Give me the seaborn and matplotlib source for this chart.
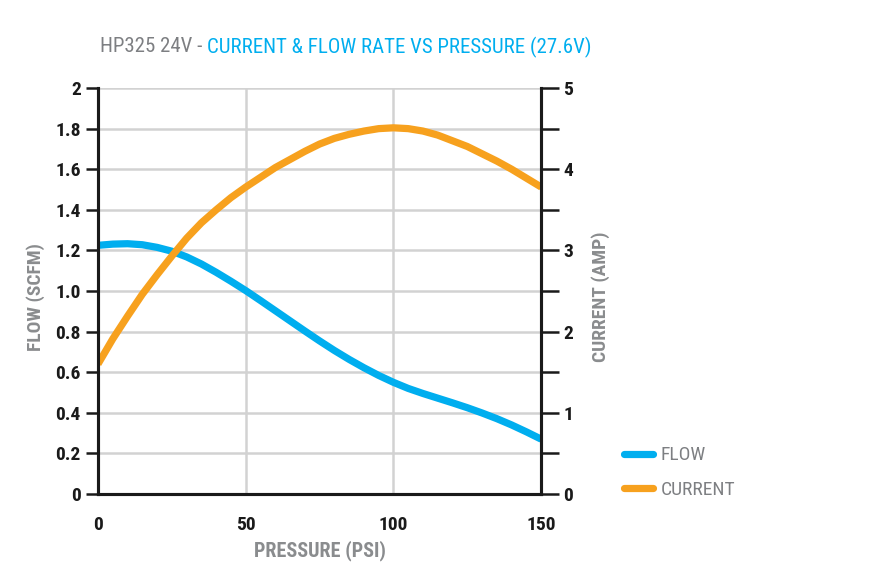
import matplotlib
matplotlib.use("Agg")
import matplotlib.pyplot as plt
import seaborn as sns
import pandas as pd
from matplotlib.lines import Line2D
from matplotlib import font_manager as fm

pressure = [0, 5, 10, 15, 20, 25, 30, 35, 40, 45, 50, 55, 60, 65, 70, 75,
            80, 85, 90, 95, 100, 105, 110, 115, 120, 125, 130, 135, 140, 145, 150]
flow = [1.225, 1.231, 1.233, 1.228, 1.215, 1.196, 1.168, 1.133, 1.092, 1.048, 1.002,
        0.953, 0.903, 0.853, 0.803, 0.754, 0.707, 0.663, 0.622, 0.584, 0.550,
        0.520, 0.495, 0.472, 0.449, 0.425, 0.399, 0.371, 0.340, 0.306, 0.270]
current = [1.60, 1.91, 2.19, 2.46, 2.70, 2.93, 3.15, 3.34, 3.50, 3.65, 3.78,
           3.90, 4.02, 4.12, 4.22, 4.31, 4.38, 4.43, 4.47, 4.50, 4.51,
           4.50, 4.47, 4.42, 4.35, 4.28, 4.19, 4.10, 4.00, 3.89, 3.78]
flow_ticks = [0, 0.2, 0.4, 0.6, 0.8, 1.0, 1.2, 1.4, 1.6, 1.8, 2]
flow_labels = ['0', '0.2', '0.4', '0.6', '0.8', '1.0', '1.2', '1.4', '1.6', '1.8', '2']
current_ticks = [0, 1, 2, 3, 4, 5]
x_ticks = [0, 50, 100, 150]

BLUE = '#00AEEF'
ORANGE = '#F7A11E'
GRAY = '#7d7f82'
LABEL_GRAY = '#8a8c8e'
INK = '#1a1a1a'

sns.set_theme(style='white')
names = {f.name for f in fm.fontManager.ttflist}
fam = [n for n in ['Roboto Condensed', 'Liberation Sans Narrow', 'DejaVu Sans Condensed'] if n in names]
plt.rcParams['font.family'] = fam + ['DejaVu Sans']

df = pd.DataFrame({'pressure': pressure, 'flow': flow, 'current': current})

fig = plt.figure(figsize=(8.75, 5.83), dpi=100)
ax = fig.add_axes([0.112, 0.1527, 0.5065, 0.6963])
ax2 = ax.twinx()

sns.lineplot(data=df, x='pressure', y='flow', ax=ax, color=BLUE, linewidth=5.2, legend=False)
sns.lineplot(data=df, x='pressure', y='current', ax=ax2, color=ORANGE, linewidth=5.2, legend=False)
for l in ax.lines + ax2.lines:
    l.set_solid_capstyle('butt')
    l.set_solid_joinstyle('round')

ax.set_xlim(0, 150)
ax.set_ylim(0, 2)
ax2.set_ylim(0, 5)

ax.set_xticks(x_ticks)
ax.set_xticklabels([str(t) for t in x_ticks])
ax.set_yticks(flow_ticks)
ax.set_yticklabels(flow_labels)
ax2.set_yticks(current_ticks)
ax2.set_yticklabels([str(t) for t in current_ticks])
ax2.set_yticks([0.5, 1.5, 2.5, 3.5, 4.5], minor=True)

ax.grid(True, color='#d2d2d2', linewidth=1.8)
ax.set_axisbelow(True)
ax2.grid(False)

for a in (ax, ax2):
    a.spines['top'].set_visible(False)
    for s in ('left', 'right', 'bottom'):
        a.spines[s].set_color(INK)
        a.spines[s].set_linewidth(2.2)
        a.spines[s].set_zorder(5)

ax.tick_params(axis='y', direction='out', length=8.5, width=1.8, color=INK, pad=4, labelsize=14, labelcolor=INK)
ax.tick_params(axis='x', direction='out', length=12.5, width=1.8, color=INK, pad=3, labelsize=14, labelcolor=INK)
ax2.tick_params(axis='y', which='both', direction='out', length=13, width=1.8, color=INK, pad=3, labelsize=14, labelcolor=INK)
for lab in ax.get_xticklabels() + ax.get_yticklabels() + ax2.get_yticklabels():
    lab.set_fontweight('bold')

ax.set_xlabel('')
ax.set_ylabel('')
ax2.set_ylabel('')

fig.text(36/875, 1 - 297/583, 'FLOW (SCFM)', rotation=90, ha='center', va='center',
         fontsize=14, fontweight='bold', color=LABEL_GRAY)
fig.text(601/875, 1 - 297/583, 'CURRENT (AMP)', rotation=90, ha='center', va='center',
         fontsize=14, fontweight='bold', color=LABEL_GRAY)
fig.text(320/875, 1 - 551/583, 'PRESSURE (PSI)', ha='center', va='center',
         fontsize=14.5, fontweight='bold', color=LABEL_GRAY)

# title in two colours
t1 = fig.text(100/875, 1 - 47/583, 'HP325 24V - ', ha='left', va='center', fontsize=15, color=GRAY)
fig.canvas.draw()
bb = t1.get_window_extent(renderer=fig.canvas.get_renderer())
fig.text(bb.x1 / fig.bbox.width, 1 - 47/583, 'CURRENT & FLOW RATE VS PRESSURE (27.6V)',
         ha='left', va='center', fontsize=15, color=BLUE)

handles = [Line2D([], [], color=BLUE, linewidth=5.2, solid_capstyle='round'),
           Line2D([], [], color=ORANGE, linewidth=5.2, solid_capstyle='round')]
leg = fig.legend(handles, ['FLOW', 'CURRENT'], loc='upper left',
                 bbox_to_anchor=(606/875, 1 - 429/583), frameon=False,
                 fontsize=14, handlelength=1.5, labelspacing=0.85, handletextpad=0.4)
for t in leg.get_texts():
    t.set_color(GRAY)

fig.savefig('out.png', dpi=100)
